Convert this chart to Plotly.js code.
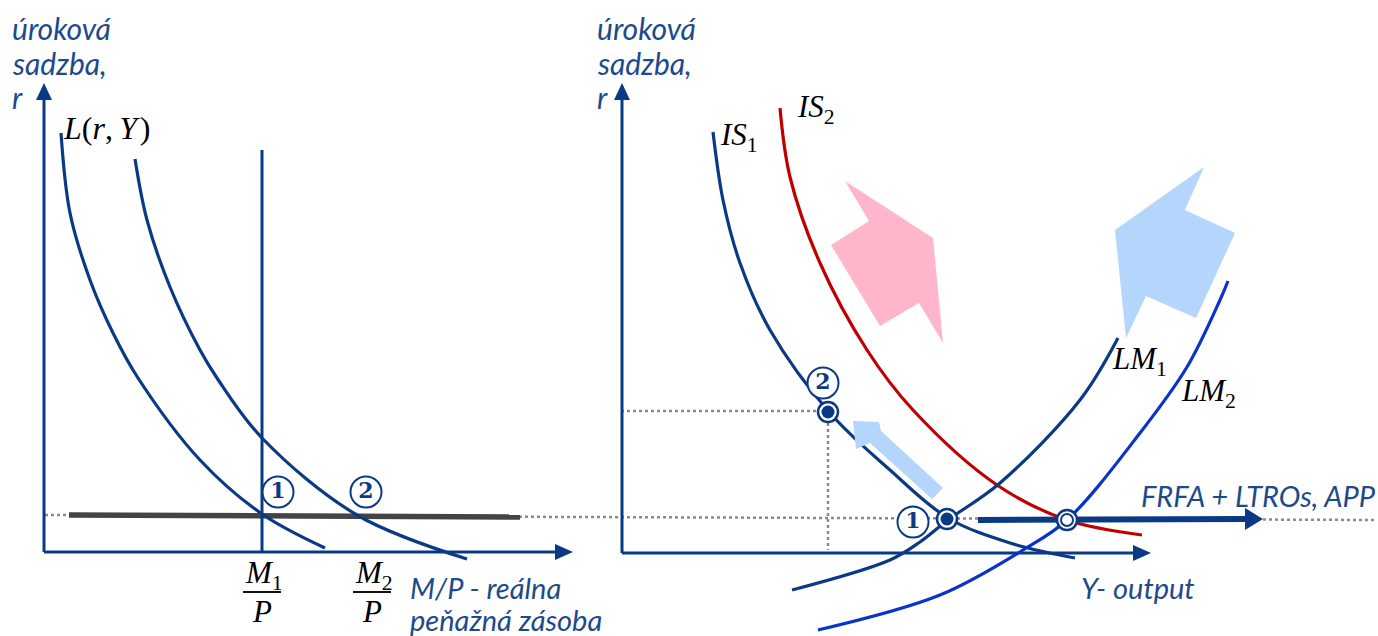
<!DOCTYPE html>
<html><head><meta charset="utf-8">
<script src="https://cdn.plot.ly/plotly-3.0.1.min.js"></script>
<style>html,body{margin:0;padding:0;background:#fff}#chart{width:1378px;height:636px}</style>
</head><body><div id="chart"></div>
<script>
// ---- data (diagram geometry, in page units) ----
const L1_x = [61, 70, 90, 113, 138, 200, 262, 325];
const L1_y = [133, 213, 280, 333, 378, 460, 514, 548];
const L2_x = [135, 147, 170, 200, 217, 262, 357, 467];
const L2_y = [159, 220, 287, 350, 378, 438, 515, 559];
const MS1_x = [262, 262];
const MS1_y = [150, 552];
const rateBar_x = [69, 520];
const rateBar_y = [515, 517];
const rateDots_x = [45, 1375];
const rateDots_y = [515, 520];

const IS1_x = [713, 723, 740, 770, 830, 890, 948, 1010, 1075];
const IS1_y = [132, 200, 263, 330, 413, 470, 518, 543, 558];
const IS2_x = [780, 790, 820, 867, 913, 997, 1067, 1142];
const IS2_y = [108, 177, 263, 350, 410, 485, 520, 535];
const LM1_x = [792, 890, 920, 948, 1000, 1080, 1118];
const LM1_y = [590, 560, 542, 520, 483, 400, 338];
const LM2_x = [818, 940, 1023, 1067, 1140, 1187, 1220, 1228];
const LM2_y = [630, 595, 550, 520, 433, 367, 300, 281];

const guideH_x = [621, 828];
const guideH_y = [411, 411];
const guideV_x = [828, 828];
const guideV_y = [411, 550];

const eqFilled_x = [828, 947];
const eqFilled_y = [412, 519];
const eqOpen_x = [1067];
const eqOpen_y = [520];

const pinkArrow_x = [845, 933, 943, 919, 880, 831, 869];
const pinkArrow_y = [181, 238, 343, 303, 326, 245, 221];
const blueArrow_x = [1204, 1185, 1235, 1196, 1146, 1126, 1115];
const blueArrow_y = [167, 210, 233, 318, 296, 338, 230];
const smallArrow_x = [943, 932, 870, 856, 853, 879, 881];
const smallArrow_y = [488, 499, 443, 449, 421, 422, 431];

const frfaShaft_x = [978, 1248];
const frfaShaft_y = [520, 519];
const frfaHead_x = [1245, 1263, 1245];
const frfaHead_y = [508, 519, 530];

const axesL_x = [44, 44, null, 44, 556];
const axesL_y = [99, 552, null, 552, 552];
const axesR_x = [622, 622, null, 622, 1134];
const axesR_y = [99, 553, null, 553, 553];
const headUp_x = [[36, 44, 52], [614, 622, 630]];
const headUp_y = [[100, 83, 100], [100, 83, 100]];
const headRight_x = [[555, 573, 555], [1133, 1151, 1133]];
const headRight_y = [[544, 552, 560], [545, 553, 561]];

const circ_x = [278, 366, 823, 913];
const circ_y = [492, 492, 383, 522];
const circ_labels = ['1', '2', '2', '1'];

const frac_x = [262, 372];

// ---- colours ----
const NAVY = '#0b3a84';
const TEXTBLUE = '#1d4a8c';
const BRIGHT = '#0a33cc';
const RED = '#c00000';

const traces = [];
function line(x, y, color, width, dash, shape) {
  traces.push({x, y, mode: 'lines', type: 'scatter', hoverinfo: 'skip',
    line: {color, width, dash: dash || 'solid', shape: shape || 'linear', smoothing: 1}});
}
function poly(x, y, color) {
  traces.push({x: x.concat([x[0]]), y: y.concat([y[0]]), mode: 'lines', type: 'scatter', fill: 'toself',
    fillcolor: color, line: {width: 0, color}, hoverinfo: 'skip'});
}

poly(pinkArrow_x, pinkArrow_y, '#ffb6cb');
poly(blueArrow_x, blueArrow_y, '#b4d5fc');

line(rateDots_x, rateDots_y, '#8a8a8a', 2.5, 'dot');
line(guideH_x, guideH_y, '#8a8a8a', 2.5, 'dot');
line(guideV_x, guideV_y, '#8a8a8a', 2.5, 'dot');
line(rateBar_x, rateBar_y, '#444444', 5.5);

line(axesL_x, axesL_y, NAVY, 3);
line(axesR_x, axesR_y, NAVY, 3);
for (let i = 0; i < 2; i++) { poly(headUp_x[i], headUp_y[i], NAVY); poly(headRight_x[i], headRight_y[i], NAVY); }

line(L1_x, L1_y, NAVY, 3.2, 'solid', 'spline');
line(L2_x, L2_y, NAVY, 3.2, 'solid', 'spline');
line(MS1_x, MS1_y, NAVY, 3);

line(IS2_x, IS2_y, RED, 3.2, 'solid', 'spline');
line(IS1_x, IS1_y, NAVY, 3.2, 'solid', 'spline');
line(LM1_x, LM1_y, NAVY, 3.2, 'solid', 'spline');
line(LM2_x, LM2_y, BRIGHT, 3.2, 'solid', 'spline');

poly(smallArrow_x, smallArrow_y, '#b4d5fc');

line(frfaShaft_x, frfaShaft_y, NAVY, 6);
poly(frfaHead_x, frfaHead_y, NAVY);

// equilibrium points
traces.push({x: eqFilled_x.concat(eqOpen_x), y: eqFilled_y.concat(eqOpen_y), mode: 'markers', type: 'scatter', hoverinfo: 'skip',
  marker: {size: 20, color: '#ffffff', line: {color: NAVY, width: 2.5}}});
traces.push({x: eqFilled_x, y: eqFilled_y, mode: 'markers', type: 'scatter', hoverinfo: 'skip',
  marker: {size: 13, color: NAVY, line: {width: 0}}});
traces.push({x: eqOpen_x, y: eqOpen_y, mode: 'markers', type: 'scatter', hoverinfo: 'skip',
  marker: {size: 12, symbol: 'circle-open', color: NAVY, line: {width: 2}}});

// circled numbers
traces.push({x: circ_x, y: circ_y, mode: 'markers+text', type: 'scatter', hoverinfo: 'skip',
  marker: {size: 31, symbol: 'circle', color: 'rgba(255,255,255,0.9)', line: {color: NAVY, width: 2}},
  text: circ_labels.map(s => '<b>' + s + '</b>'), textposition: 'middle center',
  textfont: {family: 'DejaVu Serif', size: 22, color: NAVY}});

// fraction bars
for (const fx of frac_x) line([fx - 19, fx + 19], [592, 592], '#111111', 2);

const ann = [];
function txt(x, y, text, size, color, family, xanchor) {
  ann.push({x, y, xref: 'x', yref: 'y', text, showarrow: false, xanchor: xanchor || 'left', yanchor: 'middle',
    font: {size, color, family}});
}
const SANS = 'Lato, Noto Sans, sans-serif';
const SERIF = 'Liberation Serif, DejaVu Serif, serif';
['úroková', 'sadzba,', 'r'].forEach((s, i) => {
  txt(10, 28 + i * 34.5, '<i>' + s + '</i>', 30, TEXTBLUE, SANS);
  txt(595, 28 + i * 34.5, '<i>' + s + '</i>', 30, TEXTBLUE, SANS);
});
txt(408, 587, '<i>M/P - reálna</i>', 29, TEXTBLUE, SANS);
txt(408, 619, '<i>peňažná zásoba</i>', 29, TEXTBLUE, SANS);
txt(1079, 587, '<i>Y- output</i>', 29, TEXTBLUE, SANS);
txt(1139, 495, '<i>FRFA + LTROs, APP</i>', 29, TEXTBLUE, SANS);

txt(61, 128, '<i>L</i>(<i>r</i>,\u2009<i>Y</i>\u200a)', 32, '#000000', SERIF);
txt(718, 137, '<i>IS</i><sub>1</sub>', 31, '#000000', SERIF);
txt(795, 109, '<i>IS</i><sub>2</sub>', 31, '#000000', SERIF);
txt(1110, 361, '<i>LM</i><sub>1</sub>', 31, '#000000', SERIF);
txt(1179, 393, '<i>LM</i><sub>2</sub>', 31, '#000000', SERIF);
frac_x.forEach((fx, i) => {
  txt(fx + 2, 575, '<i>M</i><sub>' + (i + 1) + '</sub>', 31, '#000000', SERIF, 'center');
  txt(fx, 611, '<i>P</i>', 31, '#000000', SERIF, 'center');
});

const layout = {
  width: 1378, height: 636, margin: {l: 0, r: 0, t: 0, b: 0},
  paper_bgcolor: '#ffffff', plot_bgcolor: '#ffffff', showlegend: false, hovermode: false,
  xaxis: {range: [0, 1378], visible: false, fixedrange: true},
  yaxis: {range: [636, 0], visible: false, fixedrange: true},
  annotations: ann
};
Plotly.newPlot('chart', traces, layout, {staticPlot: true, displayModeBar: false});
</script></body></html>
